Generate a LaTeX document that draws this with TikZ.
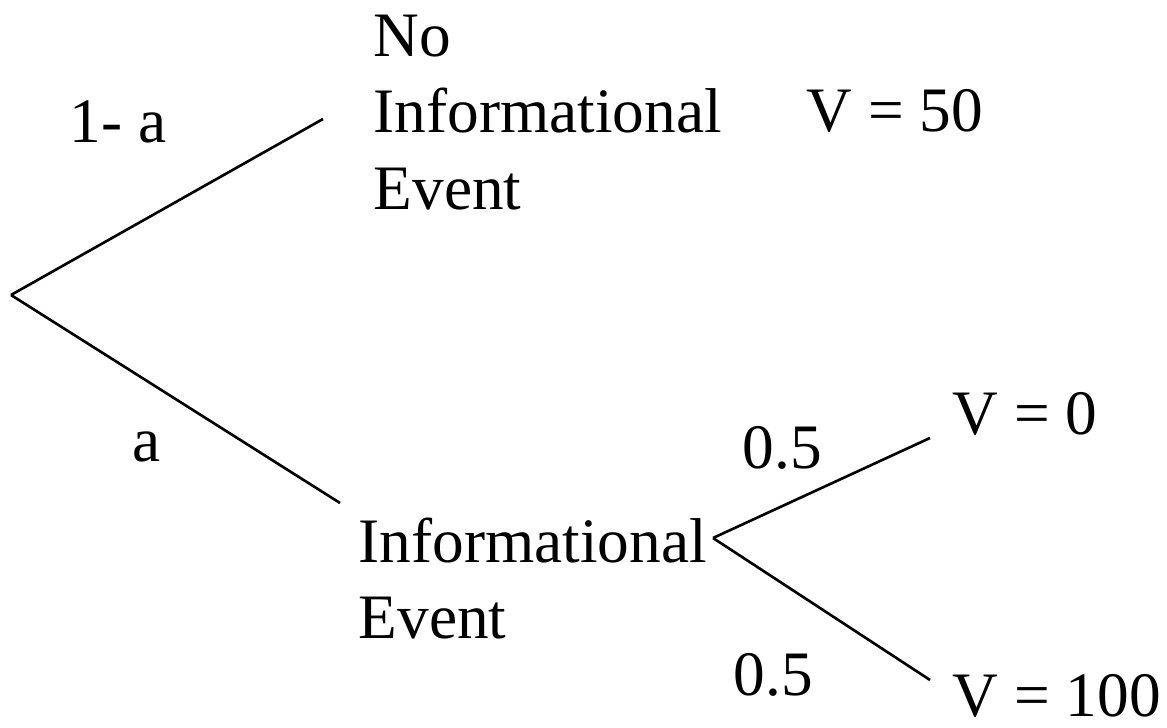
\documentclass[tikz,border=0pt]{standalone}
\usepackage{fontspec}
\setmainfont{Liberation Serif}
\usetikzlibrary{positioning}

\begin{document}
\begin{tikzpicture}[
			x=0.01cm, y=-0.01cm,
			txt/.style={inner sep=0pt, anchor=base west},
			evt/.style={inner sep=0pt, anchor=north west, align=left},
			branch/.style={line width=0.75pt},
			font=\fontsize{18}{21.8}\selectfont
			]
			
			\useasboundingbox (0,0) rectangle (1167,728);
			
			\coordinate (root) at (11, 295);
			\coordinate (noinfoEnd) at (323, 119);
			\coordinate (infoEnd) at (340, 503);
			\draw[branch] (root) -- (noinfoEnd);
			\draw[branch] (root) -- (infoEnd);
			
			\node[txt] (pNo) at (69, 143) {1- a};
			\node[txt] (pYes) at (132, 462) {a};
			
			\node[evt] (noinfo) at (373, 14) {No\\Informational\\Event};
			\node[txt] (v50) at (806, 132) {V = 50};
			
			\node[evt] (info) at (358, 517) {Informational\\Event};
			
			\coordinate (fork) at (713, 538);
			\coordinate (upEnd) at (930, 438);
			\coordinate (downEnd) at (930, 680);
			\draw[branch] (fork) -- (upEnd);
			\draw[branch] (fork) -- (downEnd);
			
			\node[txt] (pUp) at (742, 469) {0.5};
			\node[txt] (pDown) at (733, 695) {0.5};
			\node[txt] (v0) at (952, 435) {V = 0};
			\node[txt] (v100) at (952, 716) {V = 100};
			
		\end{tikzpicture}
\end{document}
